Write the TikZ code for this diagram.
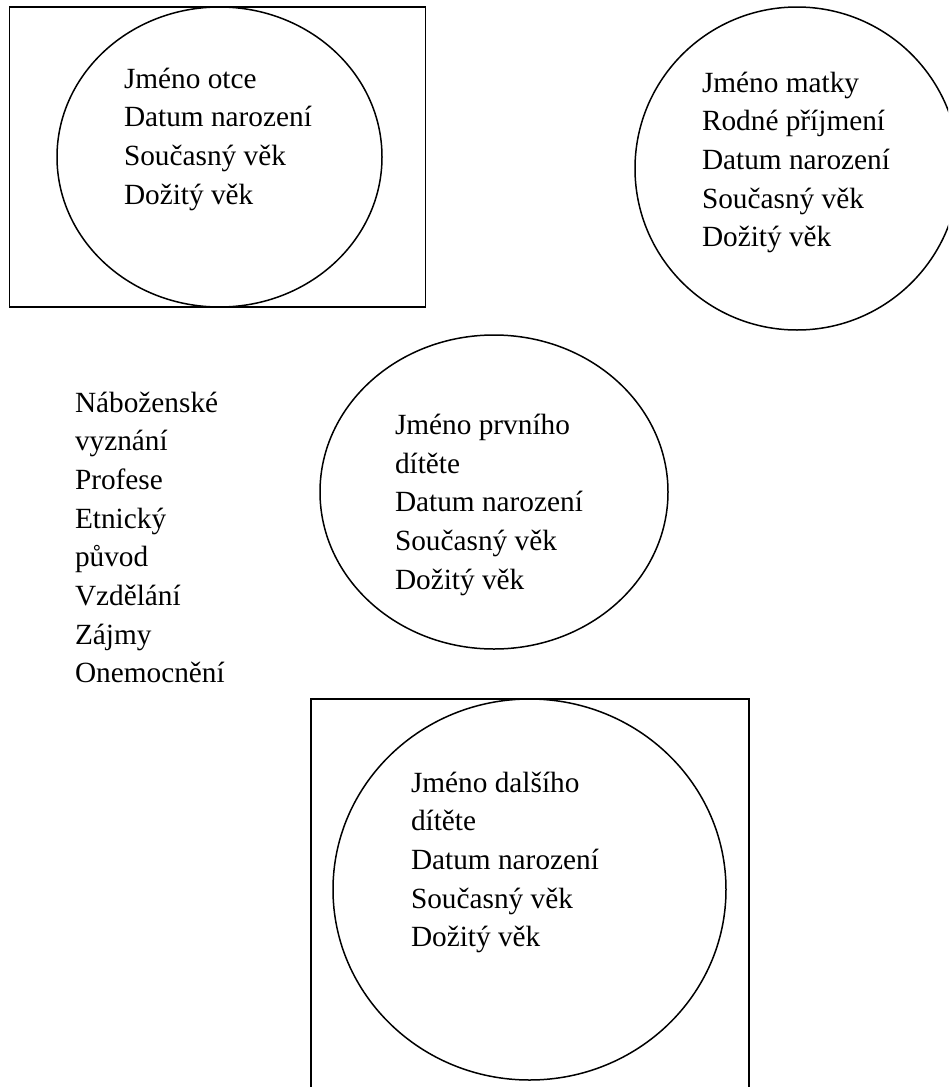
\documentclass[tikz,border=0pt]{standalone}
\usepackage{fontspec}
\setmainfont{Liberation Serif}
\usetikzlibrary{shapes.geometric}
\begin{document}
\begin{tikzpicture}[x=1pt,y=-1pt,
  shapeline/.style={draw=black,line width=1.5pt,inner sep=0pt,outer sep=0pt},
  frame/.style={shapeline,rectangle},
  oval/.style={shapeline,ellipse},
  txt/.style={anchor=base west,inner sep=0pt,outer sep=0pt,font=\fontsize{29.3}{38.7}\selectfont}
]
\useasboundingbox (0,0) rectangle (948,1087);
\clip (0,0) rectangle (948,1087);
% father
\node[frame,minimum width=416pt,minimum height=300pt] (fbox) at (217.5,157) {};
\node[oval,minimum width=325pt,minimum height=300pt] (fell) at (219.5,157) {};
\node[txt] (ftext) at (124,88) {\begin{tabular}[t]{@{}l@{}}Jméno otce\\Datum narození\\Současný věk\\Dožitý věk\end{tabular}};
% mother
\node[oval,minimum width=324pt,minimum height=323pt] (mell) at (797,168.5) {};
\node[txt] (mtext) at (702,92) {\begin{tabular}[t]{@{}l@{}}Jméno matky\\Rodné příjmení\\Datum narození\\Současný věk\\Dožitý věk\end{tabular}};
% attributes
\node[txt] (attr) at (75,412) {\begin{tabular}[t]{@{}l@{}}Náboženské\\vyznání\\Profese\\Etnický\\původ\\Vzdělání\\Zájmy\\Onemocnění\end{tabular}};
% first child
\node[oval,minimum width=348pt,minimum height=314pt] (c1ell) at (494,492) {};
\node[txt] (c1text) at (395,434.5) {\begin{tabular}[t]{@{}l@{}}Jméno prvního\\dítěte\\Datum narození\\Současný věk\\Dožitý věk\end{tabular}};
% next child
\node[frame,minimum width=438pt,minimum height=401pt] (c2box) at (530,899.5) {};
\node[oval,minimum width=393pt,minimum height=381pt] (c2ell) at (529.5,889.5) {};
\node[txt] (c2text) at (411,792) {\begin{tabular}[t]{@{}l@{}}Jméno dalšího\\dítěte\\Datum narození\\Současný věk\\Dožitý věk\end{tabular}};
\end{tikzpicture}
\end{document}
